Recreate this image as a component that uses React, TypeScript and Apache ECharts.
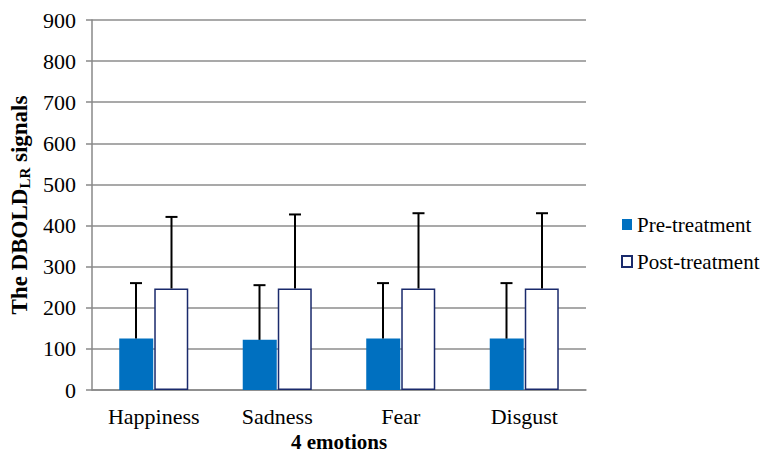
import React, { useEffect, useRef } from "react";
import * as echarts from "echarts";

const categories = ["Happiness", "Sadness", "Fear", "Disgust"];
const preValues = [125, 122, 125, 125];
const postValues = [247, 247, 247, 247];
const preErrorTop = [260, 255, 260, 260];
const postErrorTop = [421, 427, 430, 430];
const yTicks = [0, 100, 200, 300, 400, 500, 600, 700, 800, 900];

const FONT = "Liberation Serif";
const FS = 22;
const BAR_W = 34;
const GAP = 1.5;

function errorSeries(means: number[], tops: number[], offset: number) {
  return {
    type: "custom",
    z: 10,
    silent: true,
    data: means.map((m, i) => [i, m, tops[i]]),
    renderItem: (_p: any, api: any) => {
      const base = api.coord([api.value(0), api.value(1)]);
      const top = api.coord([api.value(0), api.value(2)]);
      const cx = base[0] + offset;
      const st = { stroke: "#000", lineWidth: 2 };
      return {
        type: "group",
        children: [
          { type: "line", shape: { x1: cx, y1: base[1], x2: cx, y2: top[1] }, style: st },
          { type: "line", shape: { x1: cx - 6, y1: top[1], x2: cx + 6, y2: top[1] }, style: st },
        ],
      };
    },
  };
}

export default function App() {
  const ref = useRef<HTMLDivElement>(null);
  useEffect(() => {
    if (!ref.current) return;
    const chart = echarts.init(ref.current, undefined, { renderer: "svg" });
    chart.setOption({
      animation: false,
      backgroundColor: "#fff",
      textStyle: { fontFamily: FONT },
      grid: { left: 92, top: 20, right: 186, bottom: 67, outerBoundsMode: "none", containLabel: false },
      legend: {
        orient: "vertical",
        left: 616,
        top: 209,
        itemGap: 16,
        itemWidth: 10,
        itemHeight: 11,
        icon: "rect",
        data: ["Pre-treatment", "Post-treatment"],
        textStyle: { fontFamily: FONT, fontSize: FS - 1, color: "#000" },
      },
      xAxis: {
        type: "category",
        data: categories,
        name: "4 emotions",
        nameLocation: "middle",
        nameGap: 41,
        nameTextStyle: { fontFamily: FONT, fontSize: FS - 1, fontWeight: "bold", color: "#000" },
        axisLine: { lineStyle: { color: "#888", width: 1.5 } },
        axisTick: { show: false },
        axisLabel: { fontFamily: FONT, fontSize: FS, color: "#000", margin: 15, interval: 0 },
      },
      yAxis: {
        type: "value",
        min: yTicks[0],
        max: yTicks[yTicks.length - 1],
        interval: 100,
        name: "The DBOLD{sub|LR} signals",
        nameLocation: "middle",
        nameGap: 58,
        nameRotate: 90,
        nameTextStyle: {
          fontFamily: FONT,
          fontSize: FS + 1,
          fontWeight: "bold",
          color: "#000",
          rich: {
            sub: { fontFamily: FONT, fontSize: 15, fontWeight: "bold", color: "#000", padding: [10, 0, 0, 0] },
          },
        },
        axisLine: { show: true, lineStyle: { color: "#888", width: 1.5 } },
        axisTick: { show: true, length: 6, lineStyle: { color: "#888", width: 1.5 } },
        axisLabel: { fontFamily: FONT, fontSize: FS, color: "#000", margin: 16 },
        splitLine: { lineStyle: { color: "#8c8c8c", width: 1.5 } },
      },
      series: [
        {
          name: "Pre-treatment",
          type: "bar",
          data: preValues,
          barWidth: BAR_W,
          barGap: "3%",
          itemStyle: { color: "#0070C0" },
        },
        {
          name: "Post-treatment",
          type: "bar",
          data: postValues,
          barWidth: BAR_W,
          itemStyle: { color: "#fff", borderColor: "#1a2a6c", borderWidth: 1.5 },
        },
        errorSeries(preValues, preErrorTop, -(BAR_W / 2 + GAP / 2)),
        errorSeries(postValues, postErrorTop, BAR_W / 2 + GAP / 2),
      ],
    });
    return () => chart.dispose();
  }, []);
  return <div ref={ref} style={{ width: 772, height: 457, margin: -8 }} />;
}
